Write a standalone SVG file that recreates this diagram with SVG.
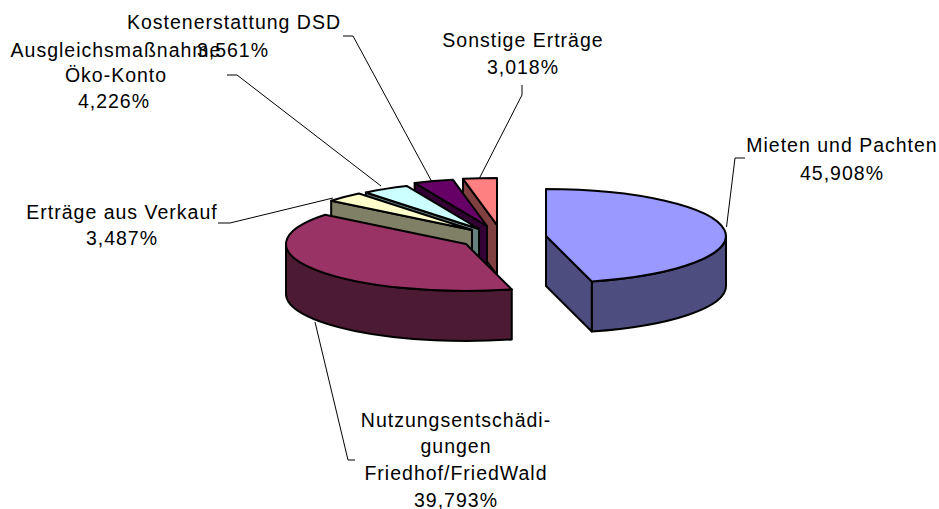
<svg xmlns="http://www.w3.org/2000/svg" width="939" height="509" viewBox="0 0 939 509">
<style>
.s{stroke:#000;stroke-width:2;stroke-linejoin:round}
.ld{fill:none;stroke:#000;stroke-width:1}
text{font-family:"Liberation Sans",Arial,sans-serif;font-size:19.5px;letter-spacing:1px;fill:#000;text-anchor:middle}
</style>
<rect width="939" height="509" fill="#fff"/>
<g id="sonstige">
<path class="s" fill="#804040" d="M497,225 L463,178.85 L463,228.85 L497,275 Z"/>
<path class="s" fill="#ff8080" d="M497,225 L463,178.85 A180,47 0 0 1 497,178 Z"/>
</g>
<g id="kosten">
<path class="s" fill="#330033" d="M487,226 L414.62,182.97 L414.62,232.97 L487,276 Z"/>
<path class="s" fill="#660066" d="M487,226 L414.62,182.97 A180,47 0 0 1 453,179.85 Z"/>
</g>
<g id="ausgleich">
<path class="s" fill="#668080" d="M479,229 L365.92,192.43 L365.92,242.43 L479,279 Z"/>
<path class="s" fill="#ccffff" d="M479,229 L365.92,192.43 A180,47 0 0 1 406.62,185.97 Z"/>
</g>
<g id="verkauf">
<path class="s" fill="#808066" d="M472,230 L331.17,200.73 L331.17,250.73 L472,280 Z"/>
<path class="s" fill="#ffffcc" d="M472,230 L331.17,200.73 A180,47 0 0 1 358.92,193.43 Z"/>
</g>
<g id="nutzung">
<path class="s" fill="#4d1a33" d="M511.77,289.45 A180,47 0 0 1 286,244 L286,294 A180,47 0 0 0 511.77,339.45 Z"/>
<path class="s" fill="#993366" d="M466,244 L511.77,289.45 A180,47 0 0 1 325.17,214.73 Z"/>
</g>
<g id="mieten">
<path class="s" fill="#4d4d80" d="M726,236 A180,47 0 0 1 591.77,281.45 L591.77,331.45 A180,47 0 0 0 726,286 Z"/>
<path class="s" fill="#4d4d80" d="M546,236 L591.77,281.45 L591.77,331.45 L546,286 Z"/>
<path class="s" fill="#9999ff" d="M546,236 L546,189 A180,47 0 0 1 591.77,281.45 Z"/>
</g>
<g id="connectors">
<polyline class="ld" points="726.5,227 735,158 745,158"/>
<polyline class="ld" points="479,179 522,95 522,85"/>
<polyline class="ld" points="432,182 353,36 343,36"/>
<polyline class="ld" points="381,186 237,75 227,75"/>
<polyline class="ld" points="333,198 230,223 218,223"/>
<polyline class="ld" points="315,322 348,460 355,460"/>
</g>
<g id="labels">
<text x="842" y="152">Mieten und Pachten</text>
<text x="842" y="180">45,908%</text>
<text x="523" y="47">Sonstige Erträge</text>
<text x="523" y="73.5">3,018%</text>
<text x="116" y="56.5">Ausgleichsmaßnahme</text>
<text x="116" y="82">Öko-Konto</text>
<text x="114" y="108">4,226%</text>
<text x="234" y="29">Kostenerstattung DSD</text>
<text x="233" y="56.5">3,561%</text>
<text x="122" y="219">Erträge aus Verkauf</text>
<text x="122" y="245">3,487%</text>
<text x="456" y="426.5">Nutzungsentschädi-</text>
<text x="456" y="453">gungen</text>
<text x="456" y="480">Friedhof/FriedWald</text>
<text x="456" y="507">39,793%</text>
</g>
</svg>
